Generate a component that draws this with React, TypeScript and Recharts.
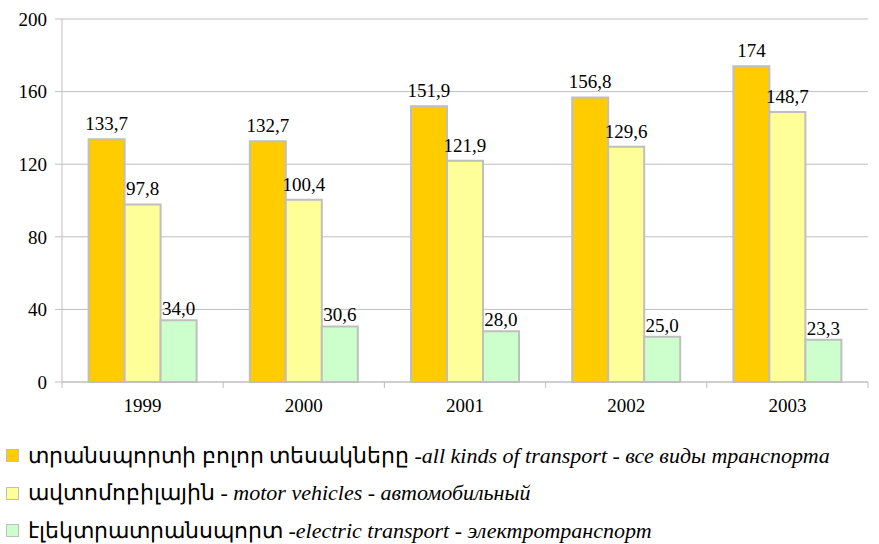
import { BarChart, Bar, XAxis, YAxis, CartesianGrid, LabelList } from 'recharts';

const years = ['1999', '2000', '2001', '2002', '2003'];
const allKinds = [133.7, 132.7, 151.9, 156.8, 174];
const motorVehicles = [97.8, 100.4, 121.9, 129.6, 148.7];
const electric = [34.0, 30.6, 28.0, 25.0, 23.3];
const yTicks = [0, 40, 80, 120, 160, 200];

const data = years.map((y, i) => ({
  year: y,
  all: allKinds[i],
  motor: motorVehicles[i],
  electric: electric[i],
}));

const W = 879;
const H = 420;
const M = { top: 19, right: 11, left: 0, bottom: 0 };
const Y_W = 62;
const half = (W - Y_W - M.right) / years.length / 2;

const serif = 'Liberation Serif, serif';
const border = '#BFBFBF';

const fmt = (v: number) => (Number.isInteger(v) && v > 100 ? String(v) : v.toFixed(1).replace('.', ','));

const XTick = (props: any) => {
  const { x, y, payload, index } = props;
  return (
    <g>
      <line x1={x - half} x2={x - half} y1={y - 8} y2={y - 2} stroke={border} />
      {index === years.length - 1 && <line x1={x + half} x2={x + half} y1={y - 8} y2={y - 2} stroke={border} />}
      <text x={x} y={y + 22} textAnchor="middle" fontSize={19} fontFamily={serif} fill="#000">
        {payload.value}
      </text>
    </g>
  );
};

const legendItems = [
  { color: '#FFCC00', hy: 'տրանսպորտի բոլոր տեսակները -', en: 'all kinds of transport', ru: ' - все виды транспорта' },
  { color: '#FFFF99', hy: 'ավտոմոբիլային - ', en: 'motor vehicles', ru: ' - автомобильный' },
  { color: '#CCFFCC', hy: 'էլեկտրատրանսպորտ -', en: 'electric transport', ru: ' - электротранспорт' },
];

const labelStyle = { fontSize: 19, fontFamily: serif, fill: '#000' };

export default function App() {
  return (
    <div style={{ position: 'absolute', left: 0, top: 0, width: W, height: 544, background: '#fff', fontFamily: serif }}>
      <BarChart width={W} height={H} data={data} margin={M} barGap={0} barCategoryGap="16.5%">
        <CartesianGrid vertical={false} stroke={border} />
        <XAxis
          dataKey="year"
          stroke={border}
          tickLine={false}
          tick={<XTick />}
          height={H - 382}
          interval={0}
        />
        <YAxis
          domain={[0, 200]}
          ticks={yTicks}
          width={Y_W}
          stroke={border}
          tickSize={7}
          tickMargin={8}
          tick={labelStyle}
        />
        <Bar dataKey="all" fill="#FFCC00" stroke={border} strokeWidth={2} isAnimationActive={false}>
          <LabelList dataKey="all" position="top" offset={9} formatter={(v: any) => fmt(v)} style={labelStyle} />
        </Bar>
        <Bar dataKey="motor" fill="#FFFF99" stroke={border} strokeWidth={2} isAnimationActive={false}>
          <LabelList dataKey="motor" position="top" offset={9} formatter={(v: any) => fmt(v)} style={labelStyle} />
        </Bar>
        <Bar dataKey="electric" fill="#CCFFCC" stroke={border} strokeWidth={2} isAnimationActive={false}>
          <LabelList dataKey="electric" position="top" offset={5} formatter={(v: any) => fmt(v)} style={labelStyle} />
        </Bar>
      </BarChart>
      <div style={{ position: 'absolute', left: 6, top: 437, fontFamily: serif }}>
        {legendItems.map((it) => (
          <div key={it.en} style={{ display: 'flex', alignItems: 'center', height: 37.5, fontSize: 22, whiteSpace: 'nowrap' }}>
            <span style={{ width: 11, height: 11, background: it.color, border: `1px solid ${border}`, marginRight: 9, flex: 'none' }} />
            <span>
              {it.hy}
              <i>{it.en}</i>
              <i>{it.ru}</i>
            </span>
          </div>
        ))}
      </div>
    </div>
  );
}
